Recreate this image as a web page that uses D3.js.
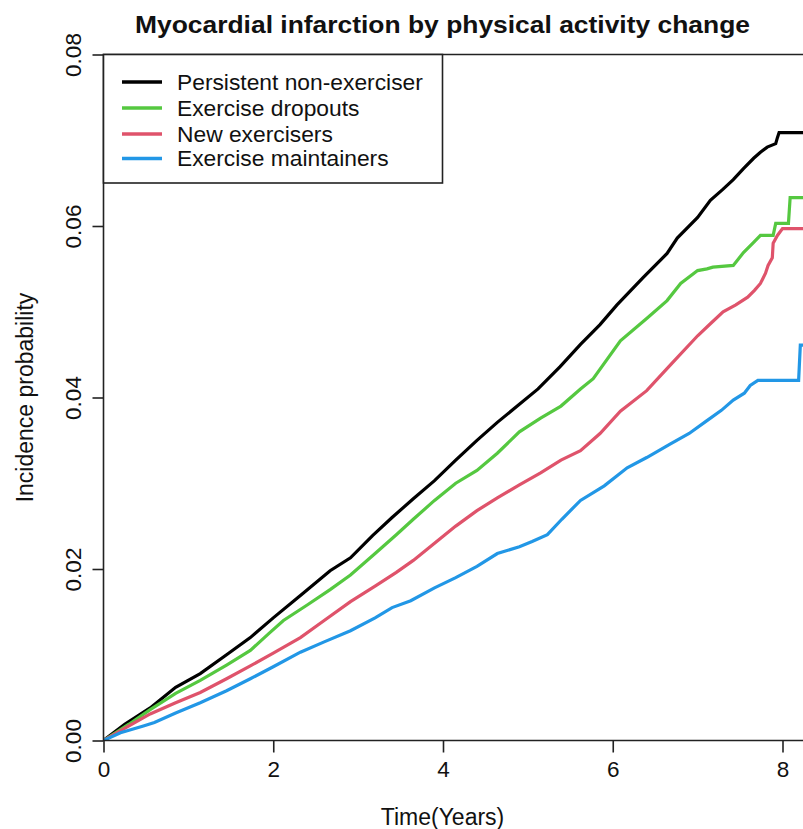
<!DOCTYPE html>
<html>
<head>
<meta charset="utf-8">
<script src="https://cdn.jsdelivr.net/npm/d3@7"></script>
<style>
  html, body { margin: 0; padding: 0; background: #fff; }
  svg { display: block; font-family: "Liberation Sans", Arial, sans-serif; }
</style>
</head>
<body>
<svg id="chart" width="803" height="829"></svg>
<script>
// ---- data ----
const title = "Myocardial infarction by physical activity change";
const xLabel = "Time(Years)";
const yLabel = "Incidence probability";
const xTicks = [0, 2, 4, 6, 8];
const yTicks = [0, 0.02, 0.04, 0.06, 0.08];
const seriesNames = ["Persistent non-exerciser", "Exercise dropouts", "New exercisers", "Exercise maintainers"];
const seriesColors = ["#000000", "#55C840", "#DF536B", "#2297E6"];

const persistentNonExerciser = [[0,0],[0.25,0.0019],[0.55,0.0038],[0.85,0.0062],[1.14,0.0078],[1.45,0.0100],[1.73,0.0120],[2.0,0.0143],[2.32,0.0169],[2.67,0.0198],[2.91,0.0213],[3.17,0.0239],[3.40,0.0260],[3.65,0.0282],[3.90,0.0303],[4.15,0.0327],[4.40,0.0350],[4.64,0.0371],[4.90,0.0392],[5.12,0.0410],[5.38,0.0436],[5.62,0.0462],[5.85,0.0485],[6.05,0.0508],[6.36,0.0540],[6.64,0.0568],[6.76,0.0586],[7.0,0.0610],[7.15,0.0630],[7.30,0.0643],[7.42,0.0654],[7.54,0.0667],[7.66,0.0679],[7.74,0.0686],[7.82,0.0692],[7.92,0.0696],[7.94,0.0703],[7.96,0.0709],[8.25,0.0709]];
const exerciseDropouts = [[0,0],[0.3,0.0019],[0.55,0.0036],[0.85,0.0055],[1.14,0.0070],[1.45,0.0088],[1.73,0.0105],[1.95,0.0125],[2.12,0.0140],[2.40,0.0158],[2.67,0.0176],[2.91,0.0193],[3.2,0.0218],[3.45,0.0240],[3.65,0.0258],[3.90,0.0280],[4.15,0.0300],[4.40,0.0315],[4.64,0.0335],[4.90,0.0360],[5.15,0.0376],[5.39,0.0390],[5.62,0.0410],[5.77,0.0422],[6.09,0.0466],[6.41,0.0493],[6.64,0.0513],[6.80,0.0533],[7.0,0.0548],[7.11,0.0550],[7.18,0.0552],[7.42,0.0554],[7.54,0.0569],[7.66,0.0581],[7.74,0.0589],[7.89,0.0589],[7.92,0.0603],[8.07,0.0603],[8.09,0.0633],[8.25,0.0633]];
const newExercisers = [[0,0],[0.3,0.0017],[0.55,0.0031],[0.85,0.0044],[1.14,0.0056],[1.45,0.0072],[1.73,0.0087],[2.0,0.0102],[2.32,0.0120],[2.6,0.0140],[2.91,0.0162],[3.2,0.0180],[3.45,0.0196],[3.65,0.0210],[3.9,0.0230],[4.15,0.0250],[4.40,0.0268],[4.64,0.0283],[4.9,0.0298],[5.15,0.0312],[5.39,0.0327],[5.62,0.0338],[5.85,0.0358],[6.09,0.0384],[6.4,0.0408],[6.68,0.0438],[7.0,0.0472],[7.15,0.0486],[7.30,0.0500],[7.45,0.0508],[7.59,0.0517],[7.67,0.0525],[7.74,0.0533],[7.80,0.0545],[7.83,0.0554],[7.88,0.0563],[7.89,0.0580],[7.94,0.0589],[8.0,0.0597],[8.25,0.0597]];
const exerciseMaintainers = [[0,0],[0.2,0.0009],[0.47,0.0017],[0.6,0.0021],[0.85,0.0032],[1.14,0.0044],[1.45,0.0058],[1.73,0.0072],[2.0,0.0086],[2.32,0.0103],[2.6,0.0115],[2.91,0.0128],[3.2,0.0143],[3.4,0.0155],[3.62,0.0163],[3.9,0.0178],[4.15,0.0190],[4.4,0.0203],[4.64,0.0218],[4.9,0.0226],[5.05,0.0232],[5.23,0.0240],[5.4,0.0258],[5.62,0.0280],[5.9,0.0297],[6.17,0.0318],[6.4,0.0330],[6.68,0.0346],[6.9,0.0358],[7.11,0.0373],[7.28,0.0385],[7.42,0.0397],[7.55,0.0405],[7.62,0.0414],[7.71,0.0420],[8.19,0.0420],[8.21,0.0461],[8.25,0.0461]];

const seriesData = [persistentNonExerciser, exerciseDropouts, newExercisers, exerciseMaintainers];

// ---- layout ----
const svg = d3.select("#chart");
const W = 803, H = 829;
const plotLeft = 103.5, plotTop = 54.5, plotBottom = 740.5;

const x = d3.scaleLinear().domain([0, 8]).range([plotLeft, 782.5]);
const y = d3.scaleLinear().domain([0, 0.08]).range([plotBottom, plotTop]);

svg.append("rect").attr("width", W).attr("height", H).attr("fill", "#fff");

// clip
svg.append("defs").append("clipPath").attr("id", "plotclip")
  .append("rect").attr("x", plotLeft).attr("y", plotTop).attr("width", W - plotLeft + 10).attr("height", plotBottom - plotTop);

// curves
const line = d3.line().x(d => x(d[0])).y(d => y(d[1]));
const g = svg.append("g").attr("clip-path", "url(#plotclip)");
seriesData.forEach((s, i) => {
  g.append("path").datum(s)
    .attr("d", line)
    .attr("fill", "none")
    .attr("stroke", seriesColors[i])
    .attr("stroke-width", 3.2)
    .attr("stroke-linejoin", "miter");
});

// box (right side beyond view)
const axisColor = "#222";
svg.append("path")
  .attr("d", `M${W + 5},${plotTop}H${plotLeft}V${plotBottom}H${W + 5}`)
  .attr("fill", "none").attr("stroke", axisColor).attr("stroke-width", 1.6);

// x axis
const xAxis = d3.axisBottom(x).tickValues(xTicks).tickSize(12).tickPadding(9).tickFormat(d3.format("d"));
const xg = svg.append("g").attr("transform", `translate(0,${plotBottom})`).call(xAxis);
xg.select(".domain").remove();
xg.selectAll(".tick line").attr("stroke", axisColor).attr("stroke-width", 1.6);
xg.selectAll(".tick text").attr("fill", "#111").attr("font-size", 22.5)
  .attr("font-family", "'Liberation Sans', Arial, sans-serif");

// y axis
const yAxis = d3.axisLeft(y).tickValues(yTicks).tickSize(11).tickPadding(0).tickFormat(d3.format(".2f"));
const yg = svg.append("g").attr("transform", `translate(${plotLeft},0)`).call(yAxis);
yg.select(".domain").remove();
yg.selectAll(".tick line").attr("stroke", axisColor).attr("stroke-width", 1.6);
yg.selectAll(".tick text")
  .attr("fill", "#111").attr("font-size", 22.5)
  .attr("font-family", "'Liberation Sans', Arial, sans-serif")
  .attr("x", null).attr("dy", "0")
  .attr("text-anchor", "middle")
  .attr("transform", "translate(-23,0) rotate(-90)");

// title
svg.append("text")
  .attr("x", 442.5).attr("y", 33)
  .attr("text-anchor", "middle")
  .attr("font-size", 24.5).attr("font-weight", "bold")
  .attr("fill", "#111")
  .attr("textLength", 615).attr("lengthAdjust", "spacingAndGlyphs")
  .text(title);

// x label
svg.append("text")
  .attr("x", 442.5).attr("y", 825)
  .attr("text-anchor", "middle")
  .attr("font-size", 23).attr("fill", "#111")
  .text(xLabel);

// y label
svg.append("text")
  .attr("transform", `translate(33,397.5) rotate(-90)`)
  .attr("text-anchor", "middle")
  .attr("font-size", 23).attr("fill", "#111")
  .text(yLabel);

// legend
const lg = svg.append("g");
lg.append("rect")
  .attr("x", plotLeft).attr("y", plotTop).attr("width", 442.5 - plotLeft).attr("height", 183 - plotTop)
  .attr("fill", "#fff").attr("stroke", axisColor).attr("stroke-width", 1.6);
const legendY = [82, 108, 134, 158.5];
seriesNames.forEach((name, i) => {
  lg.append("line")
    .attr("x1", 122).attr("x2", 162)
    .attr("y1", legendY[i]).attr("y2", legendY[i])
    .attr("stroke", seriesColors[i]).attr("stroke-width", 3.5);
  lg.append("text")
    .attr("x", 177).attr("y", legendY[i]).attr("dy", "0.35em")
    .attr("font-size", 22.8).attr("fill", "#111")
    .text(name);
});
</script>
</body>
</html>
